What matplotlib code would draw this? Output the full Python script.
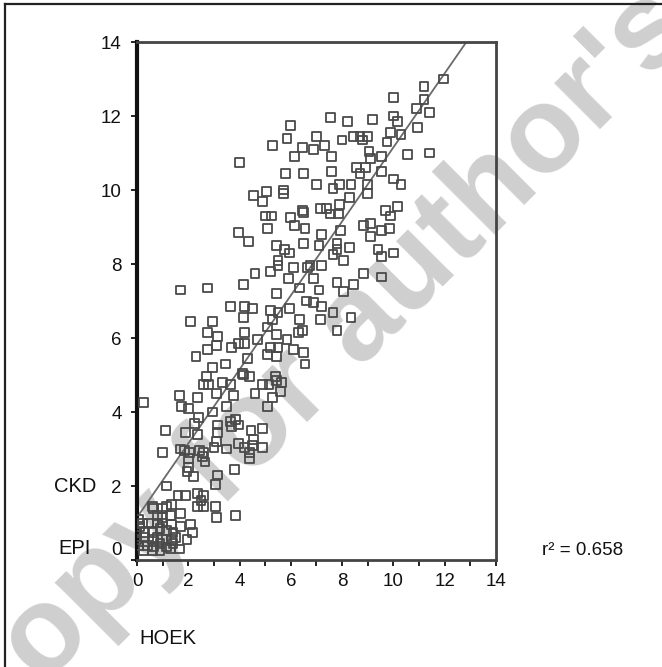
import numpy as np
import matplotlib
matplotlib.use("Agg")
import matplotlib.pyplot as plt
from matplotlib.lines import Line2D
import matplotlib.transforms as mtransforms

plt.rcParams['font.family'] = ['Liberation Sans', 'DejaVu Sans']

# HOEK (x) vs CKD-EPI (y) values
hoek = [
    11.95, 11.2, 10.0, 11.2, 10.9, 11.4, 10.0, 7.55, 8.2, 9.2, 10.15, 10.95, 9.9, 10.3, 7.0, 8.45, 8.7, 9.0,
    8.8, 8.0, 9.75, 6.45, 6.9, 7.3, 9.05, 7.6, 9.55, 10.55, 11.4, 9.1, 6.5, 7.6, 8.55, 8.9, 8.7, 9.55,
    7.0, 7.65, 7.9, 8.35, 9.0, 9.0, 10.0, 10.3, 8.3, 7.9, 7.15, 7.4, 9.7, 10.15,
    6.0, 5.85, 5.3, 6.15, 4.0, 5.8, 4.55, 5.05, 4.9, 5.7, 5.7, 6.45,
    5.0, 5.25, 6.0, 6.5, 6.15, 3.95, 4.35, 5.1, 6.55, 7.2, 5.45, 5.75, 5.95, 6.5, 7.1, 5.5, 5.5, 6.1,
    6.65, 6.75, 7.2, 4.6, 5.2, 5.9, 6.9, 1.7, 2.75, 4.15, 5.45, 6.35, 7.1, 6.6, 6.9, 7.2, 3.65, 4.2,
    4.5, 5.2, 5.5, 5.95, 2.1, 2.95, 4.15, 5.3, 6.35, 7.15, 5.1, 2.75, 3.15, 4.2, 5.45, 6.3, 2.75, 3.1,
    3.7, 3.95, 4.2, 4.7, 5.2, 5.5, 5.85, 6.1, 6.5, 2.3, 3.45, 2.95, 4.3, 5.1, 5.45, 6.55, 2.7, 4.15, 5.4,
    7.55, 7.85, 9.9, 7.95, 8.85, 9.1, 9.1, 9.55, 9.85, 7.8, 7.8, 7.65, 8.3, 8.05, 9.4, 9.55, 10.0, 8.85,
    9.55, 7.8, 8.05, 8.45, 7.65, 8.35, 7.8, 6.45,
    0.25, 2.6, 2.8, 3.1, 3.35, 3.65, 3.75, 4.1, 4.4, 4.9, 5.15, 5.45, 5.65, 5.6, 5.3, 5.1, 4.6, 1.65,
    2.35, 1.75, 2.0, 2.95, 3.5, 2.4, 2.25, 3.15, 3.65, 3.85, 3.95, 3.7, 1.1, 1.9, 2.35, 3.15, 4.45, 4.9,
    3.1, 3.0, 3.95, 4.2, 4.5, 4.55, 4.4, 2.45, 2.6, 2.55, 3.5, 1.0, 1.7, 1.85, 2.05, 4.4, 2.0, 2.0,
    2.65, 3.8, 2.2, 3.15, 3.05, 1.15, 1.6, 1.9, 2.35, 2.6, 2.5, 2.6, 3.05, 1.35, 3.1, 3.85, 1.7, 4.9,
    1.95, 2.35, 1.15, 1.0, 0.65, 0.6, 0.8, 1.0, 1.3, 0.2, 0.45, 0.8, 1.0, 1.35, 1.7, 2.1, 2.15, 1.95,
    0.0, 0.3, 0.6, 0.9, 1.15, 1.4, 0.0, 0.3, 0.6, 0.8, 1.0, 1.35, 1.5, 0.05, 0.4, 0.65, 0.9, 1.15,
    1.4, 1.65, 0.25, 0.6, 0.9, 1.3, 0.05, 0.1,
]
ckd_epi = [
    13.0, 12.8, 12.5, 12.45, 12.2, 12.1, 12.0, 11.95, 11.85, 11.9, 11.85, 11.7, 11.55, 11.5, 11.45, 11.45, 11.45, 11.45,
    11.35, 11.35, 11.3, 11.15, 11.1, 11.2, 11.05, 10.9, 10.9, 10.95, 11.0, 10.85, 10.45, 10.5, 10.6, 10.6, 10.45, 10.5,
    10.15, 10.05, 10.15, 10.15, 10.15, 9.9, 10.3, 10.15, 9.8, 9.6, 9.5, 9.5, 9.45, 9.55,
    11.75, 11.4, 11.2, 10.9, 10.75, 10.45, 9.85, 9.95, 9.7, 10.0, 9.9, 9.45,
    9.3, 9.3, 9.25, 9.4, 9.05, 8.85, 8.6, 8.95, 8.95, 8.8, 8.5, 8.4, 8.3, 8.55, 8.5, 8.1, 7.95, 7.9,
    7.9, 7.95, 7.95, 7.75, 7.8, 7.6, 7.6, 7.3, 7.35, 7.45, 7.2, 7.35, 7.3, 7.0, 6.95, 6.85, 6.85, 6.85,
    6.8, 6.75, 6.7, 6.8, 6.45, 6.45, 6.55, 6.5, 6.5, 6.5, 6.3, 6.15, 6.05, 6.15, 6.1, 6.15, 5.7, 5.8,
    5.75, 5.85, 5.85, 5.95, 5.75, 5.75, 5.95, 5.7, 5.6, 5.5, 5.3, 5.2, 5.45, 5.55, 5.5, 5.3, 4.95, 5.0, 4.95,
    9.35, 9.35, 9.3, 8.9, 9.05, 9.1, 8.75, 8.9, 8.95, 8.55, 8.4, 8.25, 8.45, 8.1, 8.4, 8.2, 8.3, 7.75,
    7.65, 7.5, 7.25, 7.45, 6.7, 6.55, 6.2, 6.2,
    4.25, 4.75, 4.75, 4.5, 4.8, 4.75, 4.45, 5.05, 4.95, 4.75, 4.75, 4.85, 4.8, 4.55, 4.4, 4.15, 4.5, 4.45,
    4.4, 4.15, 4.1, 4.0, 4.15, 3.85, 3.7, 3.65, 3.75, 3.8, 3.65, 3.6, 3.5, 3.45, 3.4, 3.45, 3.5, 3.55,
    3.2, 3.05, 3.15, 3.05, 3.1, 3.25, 2.9, 2.95, 2.9, 2.8, 3.0, 2.9, 3.0, 2.95, 2.9, 2.75, 2.75, 2.5,
    2.65, 2.45, 2.25, 2.3, 2.05, 2.0, 1.75, 1.75, 1.8, 1.75, 1.6, 1.45, 1.45, 1.5, 1.15, 1.2, 1.25, 3.05,
    2.4, 1.45, 1.45, 1.4, 1.4, 1.45, 1.2, 1.15, 1.2, 1.0, 1.0, 1.0, 1.0, 0.95, 0.9, 0.95, 0.75, 0.55,
    0.75, 0.75, 0.75, 0.85, 0.8, 0.75, 0.55, 0.6, 0.55, 0.6, 0.55, 0.55, 0.6, 0.4, 0.4, 0.35, 0.45, 0.35,
    0.45, 0.3, 0.25, 0.25, 0.25, 0.3, 1.1, 0.9,
]

fit_slope = 1.0
fit_intercept = 1.15
fit_x_range = [0.12, 12.9]

x_ticks = [0, 2, 4, 6, 8, 10, 12, 14]
y_ticks = [0, 2, 4, 6, 8, 10, 12, 14]
r2_text = "r² = 0.658"

fig = plt.figure(figsize=(6.62, 6.67), dpi=100)
ax = fig.add_axes([0.207, 0.1604, 0.542, 0.7766])
ax.set_facecolor("none")

ax.scatter(hoek, ckd_epi, s=40, marker="s", facecolors="none",
           edgecolors="#4a4a4a", linewidths=1.3, zorder=3)

fx = np.array(fit_x_range)
ax.plot(fx, fit_slope * fx + fit_intercept, color="#6a6a6a", lw=1.3, zorder=2)

ax.set_xlim(0, 14)
ax.set_ylim(0, 14)
ax.set_xticks(np.arange(0, 15, 1))
ax.set_xticklabels([str(t) if t in x_ticks else "" for t in range(15)])
ax.set_yticks(y_ticks)
ax.tick_params(axis="both", direction="out", length=4, width=1.3, labelsize=13.5,
               colors="#111111", pad=5)
ax.tick_params(axis="y", pad=7)

for side in ["top", "right", "bottom"]:
    ax.spines[side].set_linewidth(2.0)
    ax.spines[side].set_color("#444444")
ax.spines["left"].set_linewidth(3.0)
ax.spines["left"].set_color("#111111")

# "0" on the y axis sits a little higher than its tick
lbl0 = ax.get_yticklabels()[0]
lbl0.set_transform(lbl0.get_transform() + mtransforms.ScaledTranslation(0, 12 / 100, fig.dpi_scale_trans))

fig.text(0.113, 0.27, "CKD", fontsize=14.5, ha="center", va="center", color="#111111")
fig.text(0.113, 0.178, "EPI", fontsize=14.5, ha="center", va="center", color="#111111")
fig.text(0.254, 0.043, "HOEK", fontsize=14.5, ha="center", va="center", color="#111111")
fig.text(0.88, 0.175, r2_text, fontsize=13.5, ha="center", va="center", color="#111111")

# watermark
fig.text(-0.03, -0.123, "Copy for author's use", fontsize=88, fontweight="bold",
         color="#cfcfcf", rotation=45, rotation_mode="anchor", ha="left", va="baseline",
         zorder=-1)

# frame of the cropped picture
fig.add_artist(Line2D([0.007, 1.0], [0.994, 0.994], color="#222222", lw=1.6))
fig.add_artist(Line2D([0.007, 0.007], [0.0, 0.994], color="#222222", lw=1.6))

fig.savefig("out.png", dpi=100)
